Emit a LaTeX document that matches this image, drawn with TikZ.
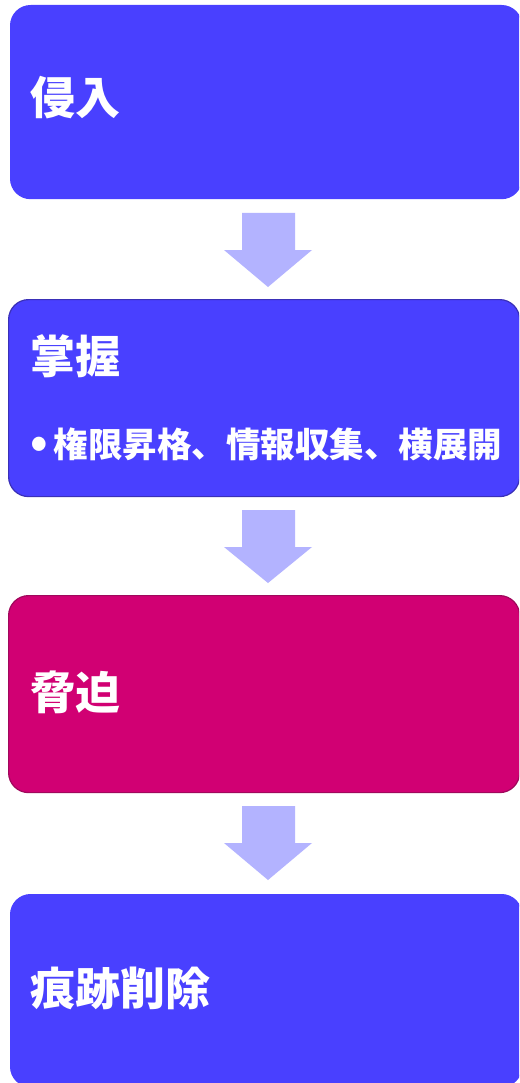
\documentclass[tikz,border=0pt]{standalone}
\usepackage{fontspec}
\newfontfamily\cjk{Noto Sans CJK JP}
\definecolor{boxblue}{HTML}{4940FF}
\definecolor{boxblueedge}{HTML}{3A30B8}
\definecolor{boxmag}{HTML}{D10073}
\definecolor{boxmagedge}{HTML}{A0085C}
\definecolor{arrowfill}{HTML}{B3B3FF}
\begin{document}
\begin{tikzpicture}[x=1pt,y=-1pt,
  stagebox/.style={rectangle, rounded corners=20pt, inner sep=0pt, anchor=north west,
    minimum width=511pt, line width=1.2pt},
  titletext/.style={anchor=west, inner sep=0pt, text=white, font=\cjk\bfseries\fontsize{45}{50}\selectfont},
  bullettext/.style={anchor=west, inner sep=0pt, text=white, font=\cjk\bfseries\fontsize{34.5}{40}\selectfont},
  blockarrow/.style={fill=arrowfill}
]
\useasboundingbox (0,0) rectangle (519,1083);
\clip (0,0) rectangle (519,1083);
\fill[white] (0,0) rectangle (519,1083);

\node[stagebox, fill=boxblue, draw=boxblue, minimum height=193pt] (b1) at (10,5) {};
\node[stagebox, fill=boxblue, draw=boxblueedge, minimum height=197pt] (b2) at (8,299) {};
\node[stagebox, fill=boxmag, draw=boxmagedge, minimum height=197pt] (b3) at (8,595) {};
\node[stagebox, fill=boxblue, draw=boxblue, minimum height=192pt] (b4) at (10,894) {};

\node[titletext] (t1) at (30,98) {侵入};
\node[titletext] (t2) at (30,356) {掌握};
\node[bullettext] (t2b) at (30,444) {\fontsize{44}{44}\selectfont•\hspace{6pt}\fontsize{34.5}{40}\selectfont 権限昇格、情報収集、横展開};
\node[titletext] (t3) at (30,692) {脅迫};
\node[titletext] (t4) at (30,988) {痕跡削除};

\fill[blockarrow] (242,213) -- (295,213) -- (295,250) -- (312,250) -- (268,287) -- (224,250) -- (242,250) -- cycle;
\fill[blockarrow] (242,510) -- (295,510) -- (295,547) -- (312,547) -- (268,583) -- (224,547) -- (242,547) -- cycle;
\fill[blockarrow] (242,806) -- (295,806) -- (295,843) -- (312,843) -- (268,880) -- (224,843) -- (242,843) -- cycle;
\end{tikzpicture}
\end{document}
